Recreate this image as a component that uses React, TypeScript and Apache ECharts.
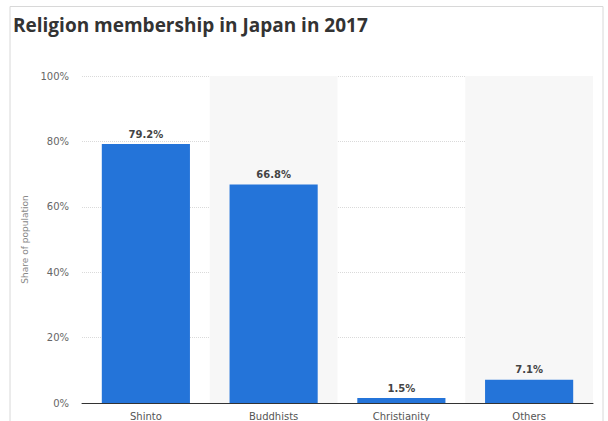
import React, { useEffect, useRef } from "react";
import * as echarts from "echarts";

const categories = ["Shinto", "Buddhists", "Christianity", "Others"];
const shares = [79.2, 66.8, 1.5, 7.1];
const yTicks = [0, 20, 40, 60, 80, 100];

export default function App() {
  const ref = useRef<HTMLDivElement>(null);
  useEffect(() => {
    if (!ref.current) return;
    const chart = echarts.init(ref.current, undefined, { renderer: "svg" });
    chart.setOption({
      animation: false,
      backgroundColor: "#ffffff",
      title: {
        text: "Religion membership in Japan in 2017",
        left: 8,
        top: 10,
        textStyle: {
          fontFamily: "Open Sans",
          fontWeight: "bold",
          fontSize: 19,
          color: "#333333",
        },
      },
      graphic: [
        {
          type: "polyline",
          shape: { points: [[10, 421], [10, 6.5], [603, 6.5], [603, 421]] },
          style: { stroke: "#d8d8d8", fill: "none", lineWidth: 1 },
          silent: true,
        },
      ],
      grid: { left: 82, right: 15, top: 76, bottom: 18, containLabel: false },
      xAxis: {
        type: "category",
        data: categories,
        axisTick: { show: false },
        axisLine: { lineStyle: { color: "#333333", width: 1 } },
        axisLabel: {
          color: "#555555",
          fontFamily: "DejaVu Sans",
          fontSize: 10,
          margin: 8,
        },
        splitArea: {
          show: true,
          areaStyle: { color: ["rgba(255,255,255,0)", "#f7f7f7"] },
        },
      },
      yAxis: {
        type: "value",
        min: yTicks[0],
        max: yTicks[yTicks.length - 1],
        interval: 20,
        name: "Share of population",
        nameLocation: "middle",
        nameGap: 43,
        nameTextStyle: { color: "#888888", fontFamily: "DejaVu Sans", fontSize: 9 },
        axisLine: { show: false },
        axisTick: { show: false },
        axisLabel: {
          color: "#666666",
          fontFamily: "DejaVu Sans",
          fontSize: 10,
          margin: 13,
          formatter: (v: number) => `${v}%`,
        },
        splitLine: { lineStyle: { color: "#dadada", type: [1, 1], width: 1 } },
      },
      series: [
        {
          type: "bar",
          data: shares,
          barWidth: "69%",
          itemStyle: { color: "#2474d9" },
          label: {
            show: true,
            position: "top",
            distance: 5,
            color: "#444444",
            fontFamily: "DejaVu Sans",
            fontWeight: "bold",
            fontSize: 10,
            formatter: (p: any) => `${p.value}%`,
          },
        },
      ],
    });
    return () => chart.dispose();
  }, []);
  return (
    <div
      ref={ref}
      style={{ position: "fixed", left: 0, top: 0, width: 608, height: 421 }}
    />
  );
}
